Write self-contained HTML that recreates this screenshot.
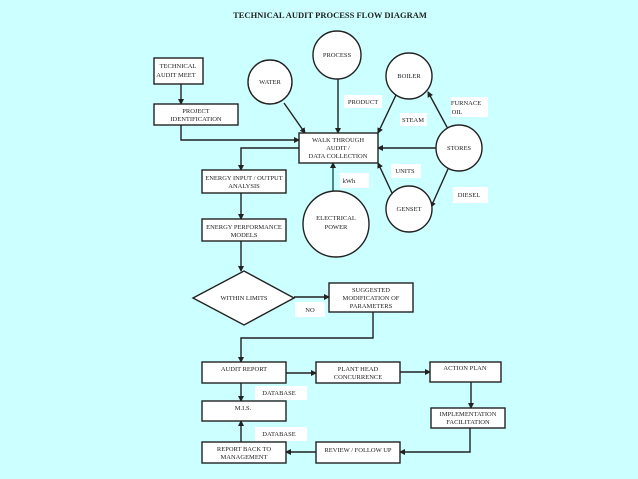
<!DOCTYPE html>
<html><head><meta charset="utf-8"><style>
html,body{margin:0;padding:0;background:#ccffff;}
svg{display:block;}
text{font-family:"Liberation Serif",serif;font-size:6.5px;fill:#222;text-anchor:middle;}
.b{fill:#fff;stroke:#222;stroke-width:1.4;}
.l{fill:#fff;stroke:none;}
.ln{fill:none;stroke:#222;stroke-width:1.4;}
.tl{fill:none;stroke:#2a6a6a;stroke-width:1.6;}
</style></head><body>
<svg width="638" height="479" viewBox="0 0 638 479" xmlns="http://www.w3.org/2000/svg">
<defs><marker id="a" markerWidth="6" markerHeight="6" refX="5" refY="3" orient="auto" markerUnits="userSpaceOnUse"><path d="M0,0 L6,3 L0,6 z" fill="#222"/></marker></defs>
<rect width="638" height="479" fill="#ccffff"/>
<text x="330" y="18" style="font-size:8.5px;font-weight:bold">TECHNICAL AUDIT PROCESS FLOW DIAGRAM</text>

<!-- connectors top -->
<path class="ln" d="M181,84 V104" marker-end="url(#a)"/>
<path class="ln" d="M181,125 V140 H299" marker-end="url(#a)"/>
<path class="ln" d="M284,103 L305,133" marker-end="url(#a)"/>
<path class="ln" d="M338,79 V133" marker-end="url(#a)"/>
<path class="ln" d="M396,95 L378,133" marker-end="url(#a)"/>
<path class="ln" d="M436,148 H378" marker-end="url(#a)"/>
<path class="ln" d="M392,193 L378,163" marker-end="url(#a)"/>
<path class="ln" d="M448,129 L428,92" marker-end="url(#a)"/>
<path class="ln" d="M448,169 L431,207" marker-end="url(#a)"/>
<path class="tl" d="M333,191 V163" marker-end="url(#a)"/>
<path class="ln" d="M299,148 H241 V170" marker-end="url(#a)"/>
<path class="ln" d="M241,193 V219" marker-end="url(#a)"/>
<path class="ln" d="M241,241 V271" marker-end="url(#a)"/>
<path class="ln" d="M294,297 H329" marker-end="url(#a)"/>
<path class="ln" d="M373,312 V338 H241 V362" marker-end="url(#a)"/>
<path class="ln" d="M286,373 H316" marker-end="url(#a)"/>
<path class="ln" d="M400,372 H430" marker-end="url(#a)"/>
<path class="ln" d="M471,382 V408" marker-end="url(#a)"/>
<path class="ln" d="M470,428 V452 H400" marker-end="url(#a)"/>
<path class="ln" d="M316,452 H286" marker-end="url(#a)"/>
<path class="ln" d="M241,442 V421" marker-end="url(#a)"/>
<path class="ln" d="M241,383 V401" marker-end="url(#a)"/>

<!-- boxes -->
<rect class="b" x="154" y="58" width="49" height="26"/>
<text x="178" y="68">TECHNICAL</text><text x="176" y="77">AUDIT MEET</text>
<rect class="b" x="154" y="104" width="84" height="21"/>
<text x="196" y="113">PROJECT</text><text x="196" y="121">IDENTIFICATION</text>
<rect class="b" x="299" y="133" width="79" height="30"/>
<text x="338" y="142">WALK THROUGH</text><text x="338" y="150">AUDIT /</text><text x="338" y="158">DATA COLLECTION</text>
<rect class="b" x="202" y="170" width="84" height="23"/>
<text x="244" y="180">ENERGY INPUT / OUTPUT</text><text x="244" y="188">ANALYSIS</text>
<rect class="b" x="202" y="219" width="84" height="22"/>
<text x="244" y="229">ENERGY PERFORMANCE</text><text x="244" y="237">MODELS</text>
<polygon class="b" points="193,298 244,271 294,298 244,325"/>
<text x="244" y="300">WITHIN LIMITS</text>
<rect class="l" x="295" y="302" width="30" height="15"/><text x="310" y="312">NO</text>
<rect class="b" x="329" y="283" width="84" height="29"/>
<text x="371" y="292">SUGGESTED</text><text x="371" y="300">MODIFICATION OF</text><text x="371" y="308">PARAMETERS</text>
<rect class="b" x="202" y="362" width="84" height="21"/><text x="244" y="371">AUDIT REPORT</text>
<rect class="b" x="316" y="362" width="84" height="21"/><text x="358" y="371">PLANT HEAD</text><text x="358" y="379">CONCURRENCE</text>
<rect class="b" x="430" y="362" width="71" height="20"/><text x="465" y="370">ACTION PLAN</text>
<rect class="b" x="431" y="408" width="74" height="20"/><text x="468" y="416">IMPLEMENTATION</text><text x="468" y="424">FACILITATION</text>
<rect class="b" x="202" y="401" width="84" height="20"/><text x="243" y="410">M.I.S.</text>
<rect class="b" x="202" y="442" width="84" height="21"/><text x="244" y="451">REPORT BACK TO</text><text x="244" y="459">MANAGEMENT</text>
<rect class="b" x="316" y="442" width="84" height="21"/><text x="358" y="452">REVIEW / FOLLOW UP</text>
<rect class="l" x="255" y="386" width="52" height="14"/><text x="279" y="395">DATABASE</text>
<rect class="l" x="255" y="427" width="52" height="14"/><text x="279" y="436">DATABASE</text>

<!-- circles -->
<circle class="b" cx="270" cy="82" r="22"/><text x="270" y="84">WATER</text>
<circle class="b" cx="337" cy="55" r="24"/><text x="337" y="57">PROCESS</text>
<circle class="b" cx="409" cy="76" r="23"/><text x="409" y="78">BOILER</text>
<circle class="b" cx="459" cy="148" r="23"/><text x="459" y="150">STORES</text>
<circle class="b" cx="409" cy="209" r="23"/><text x="409" y="211">GENSET</text>
<circle class="b" cx="336" cy="224" r="33"/><text x="336" y="220">ELECTRICAL</text><text x="336" y="229">POWER</text>

<!-- labels -->
<rect class="l" x="344" y="95" width="38" height="13"/><text x="363" y="104">PRODUCT</text>
<rect class="l" x="400" y="113" width="27" height="13"/><text x="413" y="122">STEAM</text>
<rect class="l" x="451" y="97" width="37" height="20"/><text x="466" y="105">FURNACE</text><text x="457" y="114">OIL</text>
<rect class="l" x="391" y="164" width="30" height="14"/><text x="405" y="173">UNITS</text>
<rect class="l" x="340" y="173" width="29" height="15"/><text x="349" y="183">kWh</text>
<rect class="l" x="453" y="187" width="35" height="16"/><text x="469" y="197">DIESEL</text>
</svg>
</body></html>
